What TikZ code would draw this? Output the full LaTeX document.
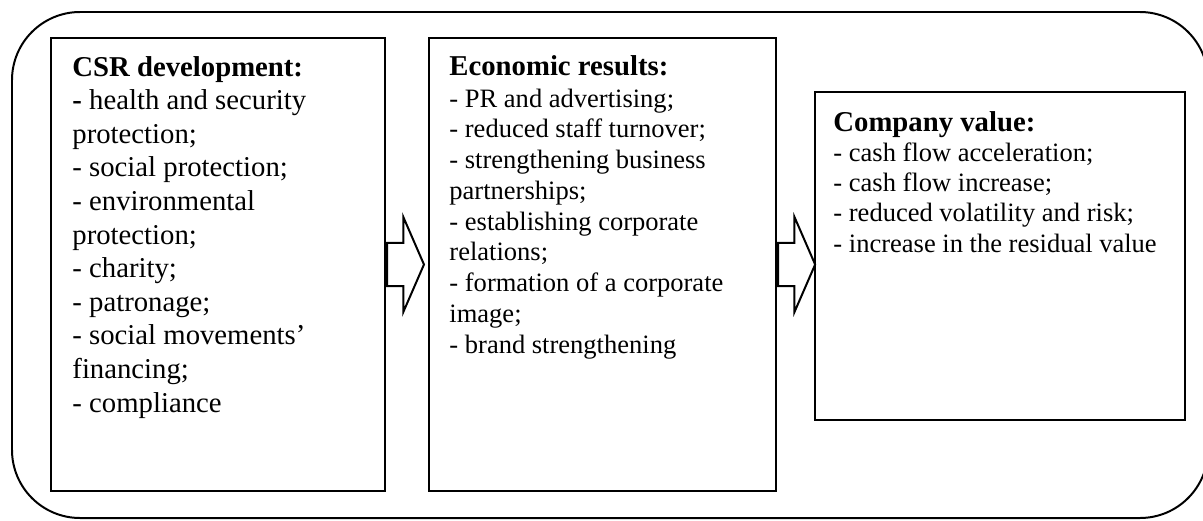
\documentclass[tikz,border=0pt]{standalone}
\usepackage{fontspec}
\setmainfont{Liberation Serif}
\usetikzlibrary{positioning,shapes.arrows}

\tikzset{
  box/.style={draw,line width=1pt,inner sep=0pt},
  blockarrow/.style={draw,single arrow,line width=0.9pt,inner xsep=0pt,inner ysep=9.3pt,
    minimum width=42.1pt,minimum height=16.7pt,
    single arrow head extend=11.8pt,single arrow tip angle=133},
  boxtext/.style={anchor=base west,align=left,inner sep=0pt}
}
\newcommand\boxtitle[1]{{\fontsize{13}{15}\selectfont\bfseries #1}}

\begin{document}
\begin{tikzpicture}[x=0.4525pt,y=-0.4525pt]
  \useasboundingbox (0,0) rectangle (1203,520);
  \draw[line width=0.9pt,rounded corners=30.8pt] (12,12) rectangle (1208,518);

  \node[box,minimum width=151.1pt,minimum height=205pt] (csr) at (218,264.5) {};
  \node[box,minimum width=157pt,minimum height=205pt] (econ) [right=19pt of csr] {};
  \node[box,minimum width=167.4pt,minimum height=148.4pt] (value) [right=16.7pt of econ,yshift=3.85pt] {};

  % texts are placed by the baseline of their last line
  \node[boxtext,font=\fontsize{13}{15.2}\selectfont] (csrtext) at (72,412)
    {\boxtitle{CSR development:}\\
     \textbf{-} health and security\\ protection;\\ - social protection;\\
     - environmental\\ protection;\\ - charity;\\ - patronage;\\
     - social movements'\\ financing;\\ - compliance};
  \node[boxtext,font=\fontsize{12}{13.9}\selectfont] (econtext) at (449,353)
    {\boxtitle{Economic results:}\\[0.6pt]
     - PR and advertising;\\ - reduced staff turnover;\\
     - strengthening business\\ partnerships;\\
     - establishing corporate\\ relations;\\
     - formation of a corporate\\ image;\\ - brand strengthening};
  \node[boxtext,font=\fontsize{12}{13.6}\selectfont] (valuetext) at (833,252)
    {\boxtitle{Company value:}\\
     - cash flow acceleration;\\ - cash flow increase;\\
     - reduced volatility and risk;\\ - increase in the residual value};

  \node[blockarrow,anchor=tail] (arr1) at (csr.east) {};
  \node[blockarrow,anchor=tail] (arr2) at (econ.east) {};
\end{tikzpicture}
\end{document}
